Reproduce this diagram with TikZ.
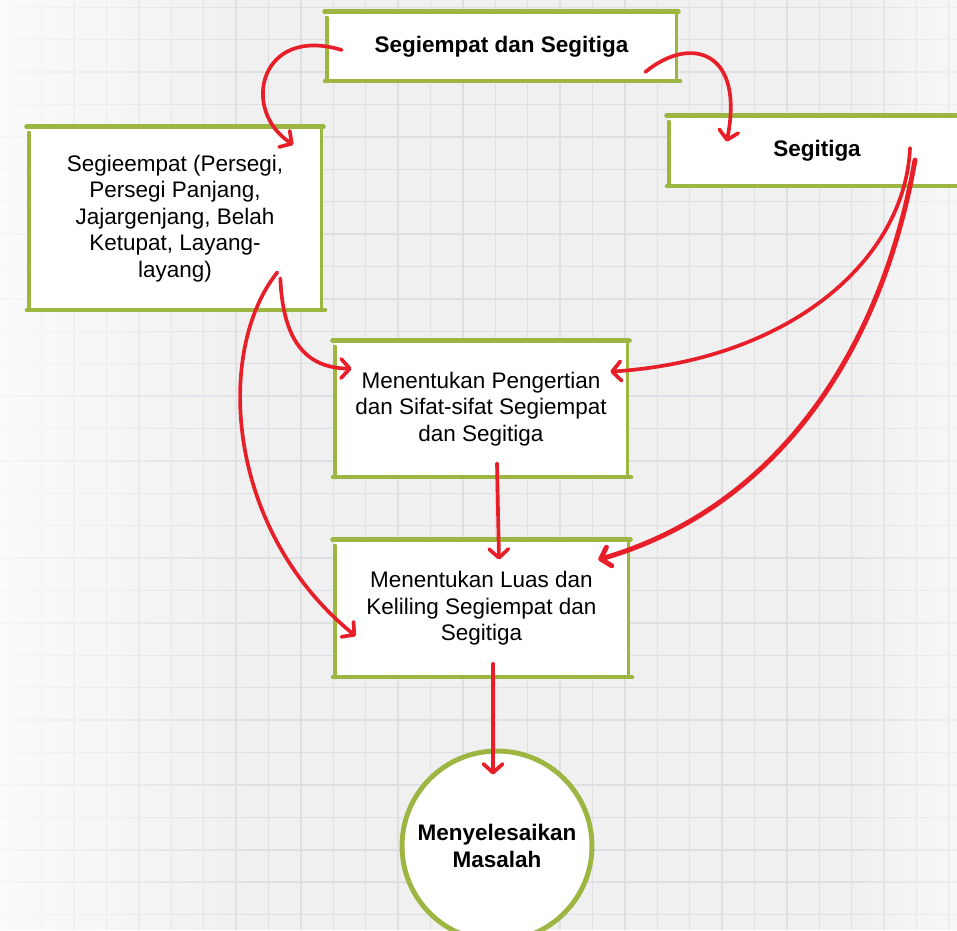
\documentclass[tikz,border=0pt]{standalone}
\usepackage{fontspec}
\setmainfont{Liberation Sans}
\usetikzlibrary{arrows.meta,calc,fadings}
\definecolor{grn}{RGB}{157,181,65}
\definecolor{redc}{RGB}{232,30,40}
\definecolor{bgc}{RGB}{240,240,240}
\definecolor{gridc}{RGB}{221,223,227}
\tikzset{
  box/.style={fill=white, inner sep=0pt, align=center, font=\fontsize{12.8}{15.1}\selectfont},
  boldbox/.style={box, font=\fontsize{12.8}{15.1}\selectfont\bfseries},
  gline/.style={draw=grn, line width=2.2pt, line cap=round},
  conn/.style={draw=redc, line width=2.1pt, line cap=round, -{Straight Barb[length=5pt,width=11pt,round]}},
}
\newcommand\skbox[1]{%
  \draw[gline, line width=2.8pt] ($(#1.north west)+(-1,0)$) -- ($(#1.north east)+(1,0)$);
  \draw[gline] ($(#1.north west)+(1,6)$) -- ($(#1.south west)+(1,0)$);
  \draw[gline] ($(#1.south west)+(-1,0)$) -- ($(#1.south east)+(3,0)$);
  \draw[gline, line width=2pt] ($(#1.north east)+(-1,3)$) -- ($(#1.south east)+(-1,0)$);
}
\begin{document}
\begin{tikzpicture}[x=0.02cm,y=-0.02cm]
\useasboundingbox (0,0) rectangle (957,930);
\clip (0,0) rectangle (957,930);
% background
\fill[bgc] (0,0) rectangle (957,930);
\foreach \k in {-1,...,28} \draw[gridc, line width=0.9pt] ({41.7+32.4*\k},0) -- ({41.7+32.4*\k},930);
\foreach \k in {0,...,28} \draw[gridc, line width=0.9pt] (0,{7.3+32.4*\k}) -- (957,{7.3+32.4*\k});
\fill[white, opacity=0.75, path fading=east] (0,0) rectangle (260,930);
\fill[white, opacity=0.5, path fading=west] (840,0) rectangle (957,930);

% boxes
\node[boldbox, minimum width=7.02cm, minimum height=1.38cm] (b1) at (501.5,46.5) {Segiempat dan Segitiga};
\node[boldbox, minimum width=5.96cm, minimum height=1.4cm] (b2) at (817,151) {Segitiga};
\node[box, minimum width=5.88cm, minimum height=3.66cm] (b3) at (175,218.5) {Segieempat (Persegi,\\Persegi Panjang,\\Jajargenjang, Belah\\Ketupat, Layang-\\layang)};
\node[box, minimum width=5.88cm, minimum height=2.72cm] (b4) at (481,409) {Menentukan Pengertian\\dan Sifat-sifat Segiempat\\dan Segitiga};
\node[box, minimum width=5.9cm, minimum height=2.74cm] (b5) at (481.5,608.5) {Menentukan Luas dan\\Keliling Segiempat dan\\Segitiga};
\node[circle, draw=grn, line width=2.8pt, fill=white, minimum size=3.8cm, inner sep=0pt, align=center, font=\fontsize{12.8}{15.1}\selectfont\bfseries] (c) at (497,846) {Menyelesaikan\\Masalah};
\skbox{b1}
\skbox{b2}
\skbox{b3}
\skbox{b4}
\skbox{b5}

% connectors
\draw[conn] ($(b1.west)+(16,3.5)$) .. controls (260,25) and (240,110) .. ($(b3.north east)+(-29,18)$);
\draw[conn] ($(b1.east)+(-32,25.5)$) .. controls (690,35) and (745,50) .. ($(b2.north west)+(59,26)$);
\draw[conn] ($(b2.center)+(93,-3)$) .. controls (905,260) and (790,360) .. ($(b4.north east)+(-18,31)$);
\draw[conn, line width=2.8pt] ($(b2.center)+(98,9)$) .. controls (880,360) and (770,510) .. ($(b5.north east)+(-31,20)$);
\draw[conn] ($(b3.south east)+(-42,-32)$) .. controls (283,340) and (305,368) .. ($(b4.north west)+(18,28)$);
\draw[conn] ($(b3.south east)+(-45,-38)$) .. controls (215,350) and (225,530) .. ($(b5.west)+(22,27.5)$);
\draw[conn] ($(b4.south)+(16,-14)$) -- ($(b5.north)+(17.5,20)$);
\draw[conn] ($(b5.south)+(11.5,-14)$) -- ($(c.north)+(-4,26)$);
\end{tikzpicture}
\end{document}
